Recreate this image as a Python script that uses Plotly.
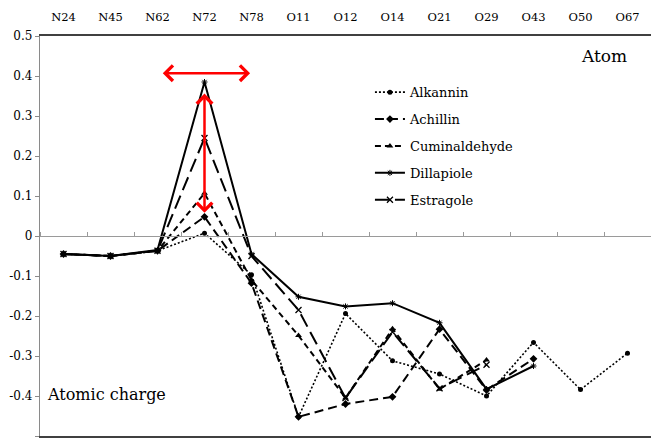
import plotly.graph_objects as go

atoms = ["N24", "N45", "N62", "N72", "N78", "O11", "O12", "O14", "O21", "O29", "O43", "O50", "O67"]

alkannin = [-0.045, -0.050, -0.037, 0.007, -0.097, -0.452, -0.194, -0.312, -0.345, -0.400, -0.266, -0.384, -0.293]
achillin = [-0.045, -0.050, -0.037, 0.048, -0.118, -0.452, -0.420, -0.402, -0.233, -0.385, -0.307, None, None]
cuminaldehyde = [-0.045, -0.050, -0.037, 0.107, -0.110, -0.249, -0.405, -0.232, -0.383, -0.310, None, None, None]
dillapiole = [-0.045, -0.050, -0.035, 0.385, -0.045, -0.152, -0.176, -0.168, -0.217, -0.383, -0.325, None, None]
estragole = [-0.045, -0.050, -0.037, 0.245, -0.050, -0.185, -0.405, -0.240, -0.381, -0.322, None, None, None]

y_ticks = [0.5, 0.4, 0.3, 0.2, 0.1, 0.0, -0.1, -0.2, -0.3, -0.4, -0.5]
y_tick_text = ["0.5", "0.4", "0.3", "0.2", "0.1", "0", "-0.1", "-0.2", "-0.3", "-0.4", "-0.5"]

FONT = "DejaVu Serif"
xs = list(range(len(atoms)))

series = [
    ("Alkannin", alkannin, dict(dash="2px,2px", width=1.6), dict(symbol="circle", size=5)),
    ("Achillin", achillin, dict(dash="9px,5px", width=2), dict(symbol="diamond", size=6)),
    ("Cuminaldehyde", cuminaldehyde, dict(dash="6px,4px", width=2), dict(symbol="triangle-up", size=6)),
    ("Dillapiole", dillapiole, dict(dash="solid", width=2), dict(symbol="asterisk-open", size=5, line=dict(width=1, color="black"))),
    ("Estragole", estragole, dict(dash="14px,6px", width=2), dict(symbol="x-thin-open", size=6, line=dict(width=1.3, color="black"))),
]

fig = go.Figure()
for i, (name, vals, line, marker) in enumerate(series):
    fig.add_trace(go.Scatter(
        x=xs, y=vals, name=name, mode="lines+markers",
        line=dict(color="black", **line),
        marker=dict(color="black", **marker),
        legendgroup=f"g{i}", connectgaps=False,
    ))

fig.update_layout(
    width=651, height=438,
    margin=dict(l=40, r=0, t=36, b=2),
    paper_bgcolor="white", plot_bgcolor="white",
    font=dict(family=FONT, color="black", size=12),
    showlegend=True,
    legend=dict(
        x=0.540, y=0.897, xanchor="left", yanchor="top",
        font=dict(family=FONT, size=13, color="black"),
        bgcolor="rgba(0,0,0,0)", tracegroupgap=7, traceorder="grouped",
    ),
    xaxis=dict(
        range=[-0.5, len(atoms) - 0.5], side="top",
        tickmode="array", tickvals=xs, ticktext=atoms,
        showline=True, linecolor="#404040", linewidth=2, mirror=True,
        ticks="", ticklabelstandoff=8, showgrid=False, zeroline=False,
        tickfont=dict(family=FONT, size=11.5, color="black"),
    ),
    xaxis2=dict(
        range=[-0.5, len(atoms) - 0.5], overlaying="x", anchor="free", position=0.5,
        side="top", showline=True, linecolor="#9a9a9a", linewidth=1.3,
        tickmode="array", tickvals=[i - 0.5 for i in range(len(atoms) + 1)],
        ticks="outside", ticklen=4, tickcolor="#9a9a9a", showticklabels=False,
        showgrid=False, zeroline=False,
    ),
    yaxis=dict(
        range=[-0.5, 0.5], tickmode="array", tickvals=y_ticks, ticktext=y_tick_text,
        showline=True, linecolor="#8a8a8a", linewidth=1.3,
        ticks="outside", ticklen=4, tickcolor="#8a8a8a",
        showgrid=False, zeroline=False,
        tickfont=dict(family=FONT, size=12, color="black"),
    ),
)

# dummy trace to keep xaxis2 rendered
fig.add_trace(go.Scatter(x=[None], y=[None], xaxis="x2", showlegend=False, hoverinfo="skip"))

fig.add_annotation(text="Atom", x=11.5, y=0.45, xref="x", yref="y", showarrow=False,
                   font=dict(family=FONT, size=17, color="black"))
fig.add_annotation(text="Atomic charge", x=0.915, y=-0.395, xref="x", yref="y", showarrow=False,
                   font=dict(family=FONT, size=16, color="black"))

# red double-headed arrows
fig.add_annotation(x=3.97, y=0.407, ax=2.08, ay=0.407, xref="x", yref="y", axref="x", ayref="y",
                   text="", showarrow=True, arrowhead=4, startarrowhead=4, arrowside="end+start",
                   arrowsize=1.2, startarrowsize=1.2, arrowwidth=2.5, arrowcolor="red")
fig.add_annotation(x=3.0, y=0.058, ax=3.0, ay=0.360, xref="x", yref="y", axref="x", ayref="y",
                   text="", showarrow=True, arrowhead=4, startarrowhead=4, arrowside="end+start",
                   arrowsize=1.2, startarrowsize=1.2, arrowwidth=2.5, arrowcolor="red")

fig.write_html("out.html")
